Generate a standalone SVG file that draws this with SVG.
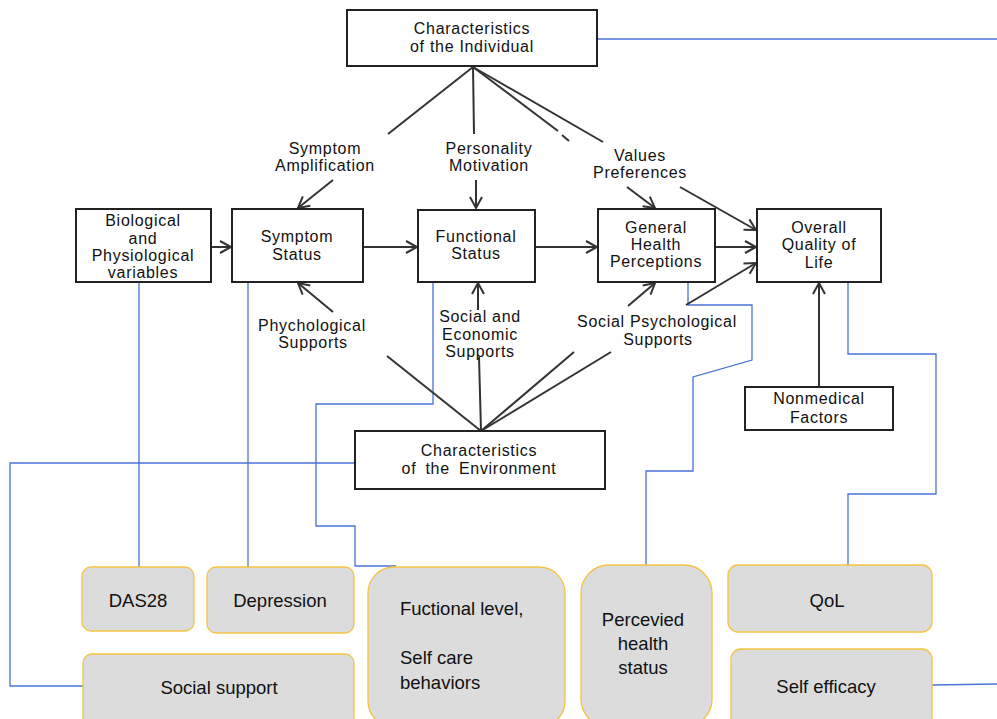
<svg xmlns="http://www.w3.org/2000/svg" width="997" height="719" viewBox="0 0 997 719">
<defs>
<marker id="arr" markerUnits="userSpaceOnUse" markerWidth="16" markerHeight="16" refX="13" refY="8" orient="auto">
<path d="M2,2 L13,8 L2,14" fill="none" stroke="#333" stroke-width="2"/>
</marker>
<style>
.box{fill:#fff;stroke:#222;stroke-width:2}
.t{font-family:"Liberation Sans",Arial,sans-serif;font-size:16px;letter-spacing:0.7px;fill:#111;text-anchor:middle}
.ln{stroke:#333;stroke-width:2;fill:none}
.ar{stroke:#333;stroke-width:2;fill:none;marker-end:url(#arr)}
.bl{stroke:#4a72d8;stroke-width:1.3;fill:none}
.gb{fill:#dcdcdc;stroke:#f5c342;stroke-width:1.3}
.bt{font-family:"Liberation Sans",Arial,sans-serif;font-size:18.5px;fill:#111;text-anchor:middle}
.bs{font-family:"Liberation Sans",Arial,sans-serif;font-size:18.5px;fill:#111;text-anchor:start}
</style>
</defs>
<rect width="997" height="719" fill="#fff"/>

<g id="connectors">
<path class="bl" d="M597,39 L997,39"/>
<path class="bl" d="M139,282 L139,567"/>
<path class="bl" d="M248,282 L248,567"/>
<path class="bl" d="M433,282 L433,404 L316,404 L316,526 L355,526 L355,566 L396,566"/>
<path class="bl" d="M688,282 L688,305 L752,305 L752,360 L693,377 L693,471 L646,471 L646,565"/>
<path class="bl" d="M848,282 L848,354 L936,354 L936,494 L848,494 L848,565"/>
<path class="bl" d="M355,463 L10,463 L10,686 L83,686"/>
<path class="bl" d="M932,685 L997,684"/>

<path class="ln" d="M473,67 L388,134"/>
<path class="ln" d="M473,67 L474,134"/>
<path class="ln" d="M473,67 L558,131"/>
<path class="ln" d="M562,135 L569,141"/>
<path class="ln" d="M473,67 L603,142"/>
<path class="ln" d="M481,431 L387,356"/>
<path class="ln" d="M481,431 L479,357"/>
<path class="ln" d="M481,431 L574,352"/>
<path class="ln" d="M481,431 L611,352"/>

<path class="ar" d="M211,247 L231,247"/>
<path class="ar" d="M363,247 L417,247"/>
<path class="ar" d="M535,247 L597,247"/>
<path class="ar" d="M715,247 L756,247"/>
<path class="ar" d="M627,187 L655,208"/>
<path class="ar" d="M680,187 L756,230"/>
<path class="ar" d="M628,306 L655,283"/>
<path class="ar" d="M686,305 L756,263"/>
<path class="ar" d="M819,387 L819,283"/>
<path class="ar" d="M333,180 L298,208"/>
<path class="ar" d="M476,180 L476,208"/>
<path class="ar" d="M333,312 L298,283"/>
<path class="ar" d="M478,310 L478,283"/>
</g>

<g id="labels">
<text class="t" x="325" y="154">Symptom</text>
<text class="t" x="325" y="171">Amplification</text>
<text class="t" x="489" y="154">Personality</text>
<text class="t" x="489" y="171">Motivation</text>
<text class="t" x="640" y="161">Values</text>
<text class="t" x="640" y="178">Preferences</text>
<text class="t" x="312" y="331">Phychological</text>
<text class="t" x="313" y="348">Supports</text>
<text class="t" x="480" y="322">Social and</text>
<text class="t" x="480" y="340">Economic</text>
<text class="t" x="480" y="357">Supports</text>
<text class="t" x="657" y="327">Social Psychological</text>
<text class="t" x="658" y="345">Supports</text>
</g>

<g id="individual">
<rect class="box" x="347" y="10" width="250" height="56"/>
<text class="t" x="472" y="34">Characteristics</text>
<text class="t" x="472" y="52">of the Individual</text>
</g>
<g id="biological">
<rect class="box" x="76" y="209" width="135" height="73"/>
<text class="t" x="143" y="226">Biological</text>
<text class="t" x="143" y="244">and</text>
<text class="t" x="143" y="261">Physiological</text>
<text class="t" x="143" y="278">variables</text>
</g>
<g id="symptom">
<rect class="box" x="232" y="209" width="131" height="73"/>
<text class="t" x="297" y="242">Symptom</text>
<text class="t" x="297" y="260">Status</text>
</g>
<g id="functional">
<rect class="box" x="418" y="210" width="117" height="72"/>
<text class="t" x="476" y="242">Functional</text>
<text class="t" x="476" y="259">Status</text>
</g>
<g id="general">
<rect class="box" x="598" y="209" width="117" height="73"/>
<text class="t" x="656" y="233">General</text>
<text class="t" x="656" y="250">Health</text>
<text class="t" x="656" y="267">Perceptions</text>
</g>
<g id="overall">
<rect class="box" x="757" y="209" width="124" height="73"/>
<text class="t" x="819" y="233">Overall</text>
<text class="t" x="819" y="250">Quality of</text>
<text class="t" x="819" y="268">Life</text>
</g>
<g id="nonmedical">
<rect class="box" x="745" y="387" width="148" height="43"/>
<text class="t" x="819" y="404">Nonmedical</text>
<text class="t" x="819" y="423">Factors</text>
</g>
<g id="environment">
<rect class="box" x="355" y="431" width="250" height="58"/>
<text class="t" x="479" y="456">Characteristics</text>
<text class="t" x="479" y="474" style="word-spacing:4px">of the Environment</text>
</g>

<g id="das28">
<rect class="gb" x="82" y="567" width="112" height="64" rx="9"/>
<text class="bt" x="138" y="607">DAS28</text>
</g>
<g id="depression">
<rect class="gb" x="207" y="567" width="147" height="66" rx="9"/>
<text class="bt" x="280" y="607">Depression</text>
</g>
<g id="social-support">
<rect class="gb" x="83" y="654" width="271" height="72" rx="9"/>
<text class="bt" x="219" y="694">Social support</text>
</g>
<g id="functional-level">
<rect class="gb" x="368" y="567" width="197" height="160" rx="26"/>
<text class="bs" x="400" y="615">Fuctional level,</text>
<text class="bs" x="400" y="664">Self care</text>
<text class="bs" x="400" y="689">behaviors</text>
</g>
<g id="perceived">
<rect class="gb" x="581" y="565" width="131" height="162" rx="28"/>
<text class="bt" x="643" y="626">Percevied</text>
<text class="bt" x="643" y="650">health</text>
<text class="bt" x="643" y="674">status</text>
</g>
<g id="qol">
<rect class="gb" x="728" y="565" width="204" height="67" rx="10"/>
<text class="bt" x="827" y="607">QoL</text>
</g>
<g id="self-efficacy">
<rect class="gb" x="731" y="649" width="201" height="78" rx="10"/>
<text class="bt" x="826" y="693">Self efficacy</text>
</g>
</svg>
